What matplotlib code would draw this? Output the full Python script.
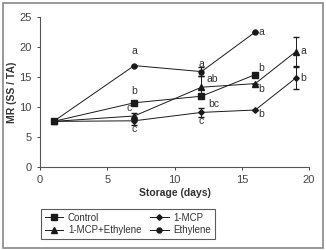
import matplotlib
matplotlib.use("Agg")
import matplotlib.pyplot as plt
from matplotlib.patches import Rectangle
from matplotlib.lines import Line2D
from matplotlib import font_manager

names = {f.name for f in font_manager.fontManager.ttflist}
fam = ['Liberation Sans Narrow'] if 'Liberation Sans Narrow' in names else []
plt.rcParams['font.family'] = fam + ['Liberation Sans', 'DejaVu Sans']

days_a = [1, 7, 12, 16]
days_b = [1, 7, 12, 16, 19]
control = [7.6, 10.7, 11.8, 15.4]
ethylene = [7.6, 16.9, 15.9, 22.5]
mcp_eth = [7.6, 8.5, 13.3, 13.9, 19.2]
mcp = [7.6, 7.7, 9.1, 9.5, 14.8]
ethylene_err = [0, 0, 0.8, 0]
mcp_eth_err = [0, 0.5, 1.8, 0, 2.4]
mcp_err = [0, 0.7, 0.7, 0, 1.8]

letters = [
    (7, 19.3, 'a'), (7, 12.6, 'b'), (6.6, 9.8, 'c'), (7, 6.3, 'c'),
    (12, 17.1, 'a'), (12.8, 14.7, 'ab'), (12.9, 10.5, 'bc'), (12, 7.6, 'c'),
    (16.45, 22.5, 'a'), (16.45, 16.5, 'b'), (16.45, 13.0, 'b'), (16.45, 8.8, 'b'),
    (19.55, 19.4, 'a'), (19.55, 14.9, 'b'),
]

fig = plt.figure(figsize=(3.26, 2.5), dpi=100)
fig.patches.append(Rectangle((0.008, 0.01), 0.984, 0.98, transform=fig.transFigure,
                             fill=False, edgecolor='#888888', linewidth=1.2))
ax = fig.add_axes([0.123, 0.332, 0.825, 0.6])
c = '#1a1a1a'
lw = 0.7
ax.plot(days_a, control, '-s', color=c, lw=lw, ms=4.2)
ax.errorbar(days_b, mcp, yerr=mcp_err, fmt='-D', color=c, lw=lw, ms=2.8,
            elinewidth=0.7, capsize=2)
ax.errorbar(days_b, mcp_eth, yerr=mcp_eth_err, fmt='-^', color=c, lw=lw, ms=3.8,
            elinewidth=0.7, capsize=2)
ax.errorbar(days_a, ethylene, yerr=ethylene_err, fmt='-o', color=c, lw=lw, ms=3.6,
            elinewidth=0.7, capsize=2)
for x, y, t in letters:
    ax.text(x, y, t, fontsize=7.5, color='#333333', ha='center', va='center')

ax.set_xlim(0, 20)
ax.set_ylim(0, 25)
ax.set_xticks([0, 5, 10, 15, 20])
ax.set_yticks([0, 5, 10, 15, 20, 25])
ax.spines['top'].set_visible(False)
ax.spines['right'].set_visible(False)
for s in ['left', 'bottom']:
    ax.spines[s].set_color('#555555')
    ax.spines[s].set_linewidth(0.8)
ax.tick_params(labelsize=8, colors='#444444', length=2.5, width=0.7)
ax.set_xlabel('Storage (days)', fontsize=7.5, fontweight='bold', color='#333333', labelpad=2)
ax.set_ylabel('MR (SS / TA)', fontsize=7.5, fontweight='bold', color='#333333', labelpad=2)

labels = ['Control', '1-MCP+Ethylene', '1-MCP', 'Ethylene']
mk = [('s', 4.2), ('^', 3.8), ('D', 2.8), ('o', 3.6)]
handles = [Line2D([], [], color=c, lw=lw, marker=m, ms=s) for m, s in mk]
leg = fig.legend(handles, labels, ncol=2, loc='lower left', bbox_to_anchor=(0.125, 0.044),
                 fontsize=7, frameon=True, fancybox=False, handlelength=1.9,
                 borderpad=0.4, labelspacing=0.25, columnspacing=0.9, handletextpad=0.5,
                 borderaxespad=0)
leg.get_frame().set_edgecolor('#333333')
leg.get_frame().set_linewidth(0.8)
for t in leg.get_texts():
    t.set_color('#333333')

fig.savefig('out.png', dpi=100)
